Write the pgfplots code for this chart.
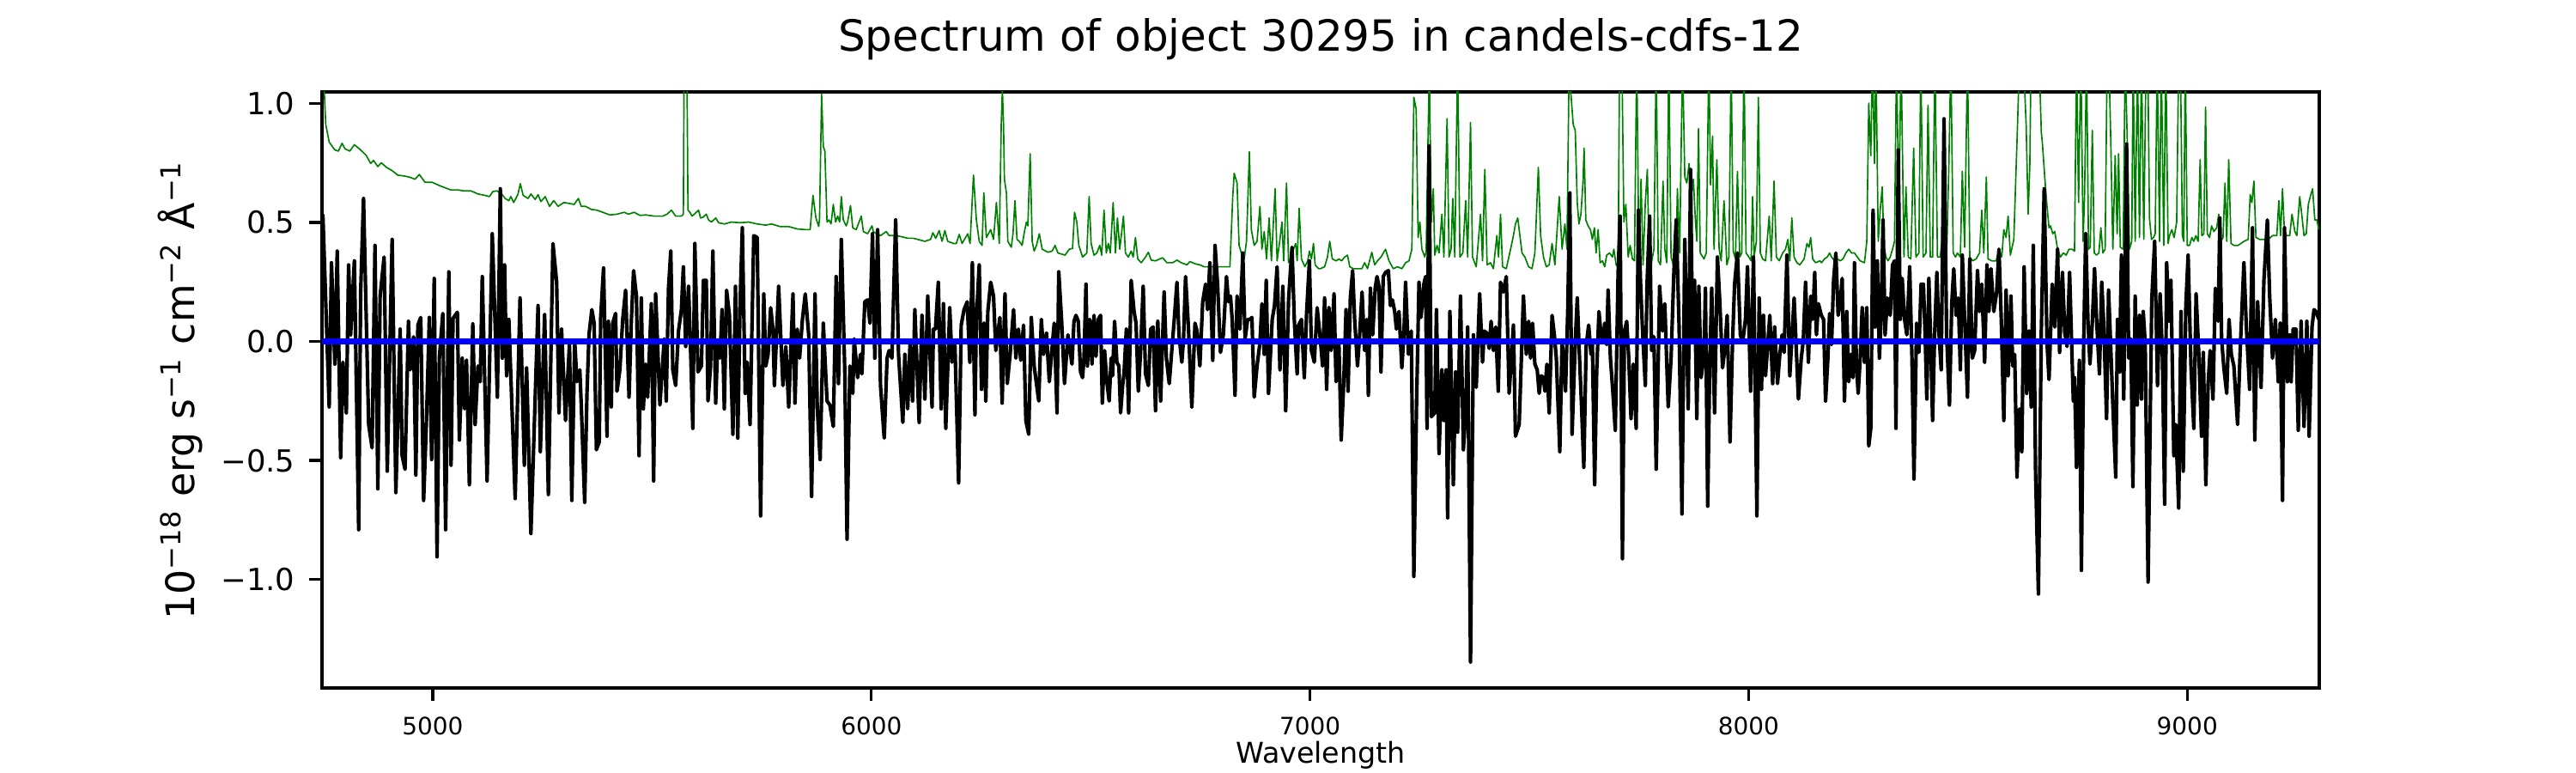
\documentclass[border=0pt]{standalone}
\usepackage{fontspec}
\setmainfont{DejaVu Sans}
\usepackage{pgfplots}
\usepackage{pgfplotstable}
\pgfplotsset{compat=1.18}
\definecolor{mplgreen}{rgb}{0,0.5,0}
\definecolor{mplblue}{rgb}{0,0,1}

\pgfplotstableread{
x y
4749.5 0.535
4763.9 -0.275
4769.1 0.331
4776.9 -0.095
4782.2 0.380
4790.0 -0.488
4795.2 -0.087
4803.0 -0.300
4808.2 0.322
4812.8 0.028
4821.3 0.339
4831.1 -0.791
4835.6 0.208
4842.2 0.601
4853.9 -0.349
4861.7 -0.447
4868.3 0.404
4874.8 -0.619
4880.0 0.191
4889.1 0.355
4896.3 -0.545
4907.4 0.429
4915.9 -0.635
4925.7 0.052
4930.2 -0.480
4936.8 -0.537
4944.6 0.085
4948.5 -0.119
4956.3 0.020
4961.5 -0.561
4966.1 0.069
4972.6 0.101
4979.2 -0.668
4985.7 -0.332
4992.2 0.101
4997.4 -0.496
5003.3 0.265
5009.8 -0.905
5015.0 -0.070
5022.9 0.118
5029.4 -0.791
5036.6 0.293
5041.8 -0.520
5046.3 0.097
5056.1 0.123
5060.7 -0.414
5067.2 -0.070
5072.4 -0.283
5077.0 -0.079
5083.5 -0.602
5091.3 0.074
5096.6 -0.349
5103.1 -0.103
5108.3 -0.169
5112.9 0.273
5123.9 -0.586
5135.7 0.453
5147.4 -0.234
5154.0 0.642
5158.5 -0.070
5163.8 0.322
5168.3 -0.144
5173.5 0.093
5187.9 -0.660
5199.0 0.183
5208.8 -0.520
5214.0 -0.111
5223.8 -0.807
5240.1 0.151
5245.3 -0.463
5255.1 0.113
5263.6 -0.643
5274.0 0.412
5282.5 0.249
5287.7 -0.300
5293.6 0.052
5302.7 -0.332
5311.8 -0.005
5317.0 -0.668
5323.6 0.003
5328.8 -0.169
5335.3 -0.119
5338.6 -0.267
5346.4 -0.676
5351.6 -0.218
5356.2 0.028
5362.7 0.134
5367.9 0.077
5373.1 -0.455
5379.6 -0.422
5382.9 0.101
5389.4 0.309
5397.3 -0.398
5400.5 0.085
5407.0 -0.275
5410.3 0.077
5416.8 0.118
5420.1 -0.209
5426.6 -0.119
5433.1 0.093
5439.7 0.216
5447.5 -0.234
5452.7 0.085
5457.9 0.298
5464.4 0.191
5470.3 -0.480
5475.5 0.183
5480.1 -0.283
5485.3 -0.095
5489.9 -0.234
5498.4 0.159
5503.6 -0.586
5508.2 0.200
5517.9 -0.267
5527.7 0.011
5532.3 -0.250
5537.5 0.224
5542.7 0.380
5547.3 -0.119
5553.8 -0.185
5560.3 0.044
5566.9 0.134
5571.4 0.314
5576.7 -0.021
5583.2 0.232
5588.4 -0.070
5592.9 -0.365
5597.5 0.412
5604.7 -0.128
5612.5 -0.103
5617.1 0.257
5623.6 0.257
5627.5 -0.250
5633.4 -0.103
5638.6 0.380
5645.1 -0.259
5649.7 0.003
5654.9 -0.070
5659.5 0.134
5664.7 -0.283
5669.9 0.216
5676.4 0.110
5684.3 -0.390
5690.2 0.232
5695.4 -0.406
5700.6 0.151
5705.8 0.478
5712.3 -0.218
5716.9 -0.087
5723.4 -0.349
5731.9 0.445
5739.7 0.437
5747.5 -0.733
5754.7 0.200
5759.3 -0.103
5764.5 -0.054
5770.4 0.142
5775.6 0.052
5778.9 -0.185
5788.6 0.232
5793.2 0.028
5798.4 -0.185
5805.0 -0.021
5811.5 -0.275
5821.3 0.200
5825.8 -0.259
5831.0 0.052
5836.3 -0.070
5842.8 0.093
5849.3 0.200
5857.1 0.028
5863.7 -0.651
5871.5 0.200
5876.7 -0.283
5883.2 -0.496
5890.4 0.077
5898.9 -0.250
5905.4 -0.267
5913.2 -0.357
5919.7 0.273
5925.0 -0.177
5931.5 0.429
5939.3 -0.119
5944.5 -0.831
5951.0 -0.103
5957.6 -0.218
5960.8 0.011
5968.7 -0.152
5975.2 -0.054
5978.4 -0.136
5985.0 0.167
5991.5 0.175
5996.7 0.077
6002.6 0.453
6007.8 -0.070
6014.3 0.470
6020.8 -0.185
6029.3 -0.406
6035.8 -0.070
6040.4 -0.038
6046.9 -0.070
6055.4 0.511
6061.9 -0.054
6071.7 -0.340
6076.3 -0.054
6082.8 -0.283
6088.0 -0.013
6093.9 -0.250
6099.1 0.134
6108.9 -0.340
6115.4 0.110
6122.0 -0.242
6128.5 0.191
6138.3 -0.275
6141.5 0.052
6146.1 0.052
6152.6 0.249
6159.1 -0.283
6164.4 0.159
6169.6 -0.365
6178.7 0.142
6183.9 -0.087
6190.4 -0.005
6198.9 -0.594
6204.8 0.069
6211.3 0.134
6218.5 0.167
6224.4 -0.087
6230.2 0.331
6236.1 -0.308
6239.4 0.093
6245.9 0.322
6251.1 -0.201
6257.0 0.077
6260.9 -0.250
6265.5 0.126
6272.0 0.249
6278.5 0.191
6283.7 -0.038
6292.9 0.101
6298.1 -0.259
6304.6 0.200
6309.8 -0.177
6316.3 -0.054
6324.2 0.134
6329.4 -0.070
6335.3 0.052
6340.5 -0.079
6347.0 0.069
6352.2 -0.332
6358.7 -0.390
6364.6 0.101
6371.1 -0.103
6381.6 -0.250
6387.5 0.093
6392.7 -0.054
6399.2 0.036
6405.7 -0.169
6410.3 -0.062
6416.8 0.077
6423.3 -0.300
6427.2 0.293
6433.8 0.085
6440.3 -0.177
6448.1 0.028
6457.3 -0.095
6461.9 0.085
6466.5 0.110
6471.7 0.085
6476.9 -0.128
6481.5 -0.152
6484.7 -0.070
6489.3 0.241
6492.5 -0.103
6497.8 0.093
6503.0 -0.095
6507.5 0.110
6512.1 -0.062
6517.3 0.093
6522.5 0.110
6526.5 -0.259
6531.7 -0.038
6536.9 -0.169
6542.1 -0.250
6546.7 -0.070
6549.9 -0.144
6554.5 0.085
6559.7 -0.087
6564.3 -0.103
6568.2 -0.300
6572.8 -0.185
6576.0 -0.136
6581.3 0.052
6586.5 -0.300
6592.3 0.257
6598.9 0.126
6603.4 0.077
6608.6 -0.209
6613.9 -0.038
6619.7 0.232
6625.0 -0.136
6631.5 -0.185
6636.7 0.052
6642.6 0.061
6647.8 -0.291
6653.0 0.085
6659.5 -0.250
6667.4 0.208
6672.6 -0.070
6679.1 -0.177
6685.6 -0.021
6690.2 0.085
6696.7 0.249
6701.3 0.028
6707.8 -0.087
6711.7 0.011
6716.3 0.273
6722.8 0.061
6730.6 -0.275
6737.8 0.077
6742.4 0.044
6748.9 -0.103
6755.4 0.167
6761.9 0.241
6766.5 0.134
6771.7 0.331
6778.3 -0.079
6783.5 0.404
6789.3 0.241
6795.9 -0.046
6802.4 0.028
6809.6 0.273
6814.1 0.167
6818.7 0.191
6822.6 0.093
6829.1 -0.226
6833.7 0.191
6840.2 0.052
6846.8 0.372
6852.0 0.011
6857.8 0.093
6863.1 0.093
6867.6 0.101
6872.8 -0.234
6879.3 -0.103
6885.9 -0.005
6890.4 0.159
6895.7 -0.054
6900.2 0.257
6905.4 -0.218
6913.9 0.093
6919.1 0.151
6925.0 0.314
6931.5 -0.119
6938.1 0.232
6944.6 -0.291
6951.1 0.175
6959.0 0.396
6964.2 0.093
6970.7 -0.136
6974.0 0.069
6980.5 0.093
6987.0 -0.152
6992.2 0.118
6998.7 0.339
7003.3 -0.038
7009.8 -0.087
7016.3 0.142
7023.5 0.011
7028.7 -0.103
7033.3 0.183
7037.9 -0.201
7043.1 0.142
7048.3 -0.038
7054.8 0.200
7059.4 -0.169
7065.9 -0.005
7071.1 -0.414
7077.0 -0.169
7082.2 0.134
7086.8 -0.209
7092.0 0.183
7097.2 0.298
7101.8 0.093
7108.3 -0.103
7113.5 0.036
7118.7 0.208
7124.6 -0.038
7129.2 0.093
7133.1 -0.226
7137.7 0.224
7142.9 0.028
7148.7 0.224
7152.7 0.273
7157.2 0.232
7161.8 -0.128
7167.0 0.273
7172.2 0.290
7178.7 0.298
7183.3 0.151
7187.9 0.175
7193.1 0.126
7197.0 0.052
7202.9 0.126
7209.4 -0.111
7214.0 0.028
7217.9 0.249
7224.4 -0.054
7230.9 0.044
7236.8 -0.987
7242.7 -0.283
7248.5 0.249
7253.1 0.101
7259.6 0.241
7263.5 0.273
7266.8 -0.365
7271.4 0.822
7276.6 -0.316
7284.4 -0.300
7288.3 0.134
7294.2 -0.471
7300.7 -0.119
7305.3 -0.332
7310.5 -0.119
7313.8 -0.741
7319.0 0.126
7326.8 -0.602
7332.0 -0.128
7336.6 -0.381
7343.1 0.191
7349.7 -0.455
7354.9 -0.300
7359.4 0.061
7366.0 -1.347
7372.5 0.028
7379.0 -0.193
7386.8 0.200
7393.4 -0.087
7397.3 0.044
7403.1 0.036
7408.4 -0.029
7412.9 0.085
7418.1 -0.038
7423.4 0.061
7429.2 -0.209
7434.4 0.249
7441.0 0.208
7447.5 0.273
7454.0 -0.218
7463.8 0.069
7468.4 -0.398
7476.9 -0.349
7486.6 0.191
7493.2 -0.054
7498.4 0.085
7502.9 -0.070
7507.5 0.077
7512.7 -0.095
7518.0 -0.119
7522.5 -0.218
7527.1 -0.144
7532.3 -0.152
7535.6 -0.209
7540.1 -0.095
7545.3 -0.300
7551.9 0.110
7557.1 0.028
7561.6 -0.070
7569.5 -0.463
7574.7 0.003
7582.5 -0.209
7587.7 0.134
7592.3 0.625
7597.5 -0.390
7604.7 -0.005
7609.3 0.183
7614.5 -0.070
7619.0 -0.267
7624.3 -0.529
7629.5 -0.021
7635.3 0.069
7640.6 -0.054
7643.8 -0.005
7649.0 -0.602
7653.6 -0.128
7658.8 0.126
7663.4 0.028
7668.0 0.003
7671.9 0.077
7676.4 -0.013
7679.7 0.216
7684.9 -0.070
7690.1 -0.201
7696.0 -0.373
7702.5 0.290
7707.1 0.527
7712.3 -0.913
7716.9 0.044
7722.1 0.085
7726.7 -0.070
7731.9 -0.324
7737.1 -0.095
7743.6 -0.365
7748.8 0.552
7753.4 0.257
7758.0 0.052
7764.5 -0.185
7768.4 0.241
7774.3 0.527
7778.8 -0.038
7784.1 0.020
7789.3 -0.537
7797.1 0.232
7803.6 0.044
7808.9 0.159
7816.7 -0.275
7823.2 -0.070
7829.7 0.298
7834.9 0.511
7841.5 0.061
7848.0 -0.725
7854.5 0.429
7862.3 -0.283
7867.6 0.723
7872.1 -0.005
7876.7 0.257
7881.9 -0.324
7886.5 0.232
7891.7 -0.152
7898.2 -0.062
7901.5 0.224
7906.7 -0.692
7911.3 -0.103
7915.8 0.224
7922.4 -0.300
7928.9 0.355
7934.1 0.175
7940.6 -0.111
7945.8 -0.029
7951.1 0.110
7957.6 -0.422
7963.4 0.003
7968.0 0.241
7974.5 0.372
7981.1 0.028
7986.3 -0.005
7992.8 0.093
7997.4 0.314
8004.5 -0.209
8011.1 0.355
8018.9 -0.733
8024.1 0.183
8029.3 -0.201
8033.9 0.110
8038.5 -0.144
8043.7 -0.013
8048.3 0.110
8054.8 -0.177
8059.3 0.061
8065.9 -0.177
8071.1 -0.054
8076.3 0.028
8080.9 -0.046
8087.4 0.363
8093.9 -0.144
8103.7 0.183
8113.5 -0.242
8120.0 -0.070
8124.6 0.003
8129.8 0.249
8136.3 -0.087
8141.5 0.191
8146.1 0.093
8150.7 0.290
8154.6 0.028
8159.1 0.159
8165.7 0.110
8170.9 0.093
8175.4 -0.250
8180.7 -0.070
8184.6 0.118
8189.1 -0.013
8193.7 0.257
8198.9 0.372
8204.1 0.110
8208.7 0.159
8213.3 0.265
8218.5 -0.250
8223.7 0.126
8228.3 -0.169
8232.8 -0.054
8238.1 -0.152
8241.3 0.331
8245.9 -0.103
8249.8 -0.218
8254.4 -0.070
8258.9 0.142
8264.1 -0.087
8269.4 0.142
8273.9 -0.439
8278.5 -0.365
8283.7 0.552
8288.3 0.061
8293.5 0.339
8298.1 -0.070
8302.0 0.093
8306.5 0.511
8311.1 0.028
8316.3 0.183
8322.8 0.110
8328.1 0.322
8332.6 0.339
8335.9 -0.365
8341.1 0.805
8345.7 0.093
8350.2 0.265
8355.5 0.093
8360.7 0.028
8367.2 0.314
8372.4 -0.070
8377.0 -0.578
8382.9 0.077
8388.1 -0.046
8393.3 0.241
8398.5 0.241
8402.4 0.028
8406.3 -0.242
8410.9 0.265
8416.1 -0.070
8419.4 -0.332
8424.0 0.028
8429.2 0.290
8433.7 0.044
8439.0 -0.119
8445.5 0.936
8451.4 0.028
8457.9 -0.267
8463.1 0.159
8467.7 0.306
8472.9 0.110
8478.1 0.183
8482.7 -0.119
8487.2 0.363
8492.5 0.093
8499.0 -0.234
8504.2 0.347
8510.1 -0.070
8515.3 -0.038
8521.8 0.298
8526.4 0.126
8531.6 0.241
8538.1 -0.087
8543.3 0.322
8547.9 0.126
8552.5 0.306
8559.0 0.126
8565.5 0.208
8570.7 0.388
8576.0 0.093
8581.8 -0.332
8587.0 0.216
8591.6 -0.144
8598.1 0.191
8602.0 -0.103
8606.6 -0.054
8611.8 -0.570
8617.7 -0.283
8622.9 -0.463
8628.1 0.314
8634.0 -0.218
8639.2 0.044
8644.4 -0.275
8649.0 0.404
8654.2 -0.553
8660.7 -1.061
8667.3 0.044
8673.8 0.642
8680.3 -0.005
8684.9 -0.160
8692.1 0.241
8697.9 0.061
8704.4 0.388
8709.0 -0.046
8715.5 0.290
8720.8 0.036
8726.0 -0.021
8731.8 0.290
8735.1 0.077
8740.3 -0.250
8743.0 -0.152
8747.6 -0.529
8754.1 -0.079
8758.7 -0.962
8763.9 -0.005
8768.5 0.453
8773.7 0.085
8778.2 -0.095
8783.5 0.077
8788.7 0.306
8793.3 0.093
8799.8 -0.136
8805.0 0.249
8809.6 0.077
8816.1 -0.324
8820.6 0.216
8825.9 -0.038
8830.4 -0.267
8837.0 -0.570
8840.9 0.093
8845.4 -0.128
8850.0 0.363
8855.2 -0.242
8861.7 0.830
8866.3 -0.070
8871.5 0.011
8876.1 -0.610
8881.3 0.191
8885.9 -0.267
8891.1 0.110
8895.7 -0.242
8899.6 0.126
8904.1 -0.005
8910.7 -1.011
8919.1 0.175
8925.7 0.421
8932.2 -0.185
8938.1 0.200
8943.3 -0.054
8948.5 -0.684
8953.1 0.331
8958.3 0.085
8962.8 0.257
8969.4 -0.480
8973.9 -0.349
8980.5 -0.700
8985.7 0.126
8990.9 -0.545
8996.8 0.151
9002.0 0.363
9008.5 -0.103
9015.0 -0.365
9020.2 0.200
9026.8 -0.070
9032.6 -0.398
9036.6 -0.046
9042.4 -0.602
9047.6 -0.177
9052.2 -0.038
9058.7 -0.242
9064.0 0.224
9070.5 0.085
9074.4 0.519
9078.3 0.011
9083.5 -0.111
9090.0 -0.218
9095.3 0.093
9100.5 -0.054
9106.3 -0.103
9114.8 -0.349
9120.7 -0.038
9129.2 0.331
9134.4 0.077
9142.2 -0.201
9148.8 0.478
9154.0 -0.414
9160.5 0.167
9168.3 -0.193
9174.8 0.257
9182.7 0.511
9187.9 0.191
9194.4 -0.070
9200.9 0.093
9207.5 -0.169
9212.0 0.077
9217.2 -0.668
9221.8 0.478
9228.3 -0.169
9233.6 0.028
9236.8 -0.169
9241.4 0.052
9247.9 0.052
9253.1 -0.373
9259.6 0.085
9266.2 -0.357
9272.7 0.085
9277.9 -0.398
9284.4 0.061
9289.0 0.134
9293.5 0.126
9300.0 0.093
}\fluxtable

\pgfplotstableread{
x y
4748.0 1.3
4751.5 1.1
4756.1 0.912
4763.9 0.838
4776.9 0.805
4784.8 0.800
4793.2 0.833
4799.8 0.810
4810.9 0.800
4821.3 0.827
4835.6 0.805
4848.7 0.781
4858.5 0.748
4865.0 0.761
4874.8 0.735
4882.6 0.751
4894.4 0.732
4907.4 0.718
4920.4 0.699
4933.5 0.696
4946.5 0.691
4959.6 0.682
4969.4 0.702
4982.4 0.669
4998.7 0.669
5011.8 0.658
5028.1 0.646
5041.1 0.637
5057.4 0.637
5070.5 0.633
5086.8 0.633
5103.1 0.620
5119.4 0.614
5129.2 0.609
5137.0 0.630
5145.5 0.633
5155.3 0.625
5165.1 0.601
5173.5 0.592
5178.1 0.609
5184.6 0.584
5194.4 0.620
5199.6 0.663
5206.2 0.614
5217.2 0.601
5223.8 0.620
5233.6 0.597
5240.1 0.617
5246.6 0.588
5256.4 0.609
5266.2 0.568
5276.0 0.592
5285.7 0.568
5298.8 0.584
5309.2 0.581
5322.2 0.576
5332.0 0.601
5338.6 0.568
5348.3 0.568
5361.4 0.555
5374.4 0.552
5387.5 0.543
5403.8 0.532
5420.1 0.535
5436.4 0.543
5446.2 0.535
5459.2 0.543
5472.3 0.530
5485.3 0.532
5504.9 0.527
5524.5 0.527
5534.2 0.535
5544.0 0.552
5553.8 0.527
5566.9 0.527
5571.4 0.535
5574.0 1.5
5578.0 1.5
5581.9 0.552
5586.4 0.543
5591.0 0.527
5596.2 0.535
5606.0 0.552
5610.6 0.519
5615.8 0.522
5623.6 0.535
5628.8 0.511
5635.4 0.502
5645.1 0.519
5651.7 0.499
5664.7 0.494
5681.0 0.502
5700.6 0.499
5720.1 0.502
5739.7 0.494
5759.3 0.489
5772.3 0.494
5791.9 0.483
5811.5 0.483
5831.0 0.473
5850.6 0.470
5860.4 0.470
5866.9 0.614
5873.5 0.519
5880.0 0.483
5881.9 0.519
5886.5 1.04
5890.4 0.82
5894.0 0.80
5898.9 0.502
5903.4 0.511
5908.0 0.494
5913.2 0.576
5918.4 0.502
5923.0 0.527
5927.6 0.502
5931.5 0.609
5936.0 0.511
5942.6 0.486
5945.8 0.502
5952.4 0.571
5957.6 0.478
5965.4 0.470
5971.9 0.502
5977.1 0.527
5981.7 0.462
5991.5 0.453
6001.3 0.486
6004.5 0.462
6011.1 0.453
6020.8 0.445
6033.9 0.462
6040.4 0.445
6056.7 0.445
6069.8 0.440
6082.8 0.434
6095.9 0.434
6105.6 0.429
6122.0 0.421
6135.0 0.429
6140.2 0.457
6146.7 0.434
6154.6 0.466
6161.1 0.421
6167.6 0.466
6174.1 0.421
6187.2 0.412
6193.7 0.412
6200.2 0.450
6206.8 0.412
6219.8 0.453
6225.0 0.412
6232.8 0.699
6239.4 0.511
6245.9 0.421
6252.4 0.404
6256.3 0.625
6262.2 0.437
6272.0 0.470
6278.5 0.429
6285.0 0.584
6291.6 0.412
6296.1 0.912
6298.7 1.06
6301.3 0.912
6303.3 0.682
6307.9 0.625
6311.1 0.421
6319.0 0.396
6322.9 0.453
6327.4 0.592
6332.0 0.429
6337.2 0.421
6343.7 0.404
6349.0 0.462
6353.5 0.502
6356.8 0.486
6362.0 0.789
6366.6 0.421
6371.1 0.380
6376.4 0.404
6382.9 0.453
6389.4 0.388
6402.4 0.375
6412.2 0.380
6418.8 0.404
6425.3 0.372
6441.6 0.363
6451.4 0.388
6458.6 0.391
6463.2 0.543
6468.4 0.502
6473.0 0.404
6481.5 0.355
6491.2 0.372
6496.5 0.609
6501.0 0.412
6507.5 0.363
6514.1 0.372
6520.6 0.404
6525.2 0.363
6530.4 0.552
6535.6 0.372
6540.2 0.412
6544.7 0.372
6551.2 0.584
6556.5 0.372
6561.0 0.519
6566.3 0.388
6574.7 0.527
6579.3 0.372
6585.8 0.355
6592.3 0.380
6596.9 0.355
6602.1 0.437
6607.3 0.347
6615.2 0.331
6625.0 0.355
6631.5 0.375
6638.0 0.342
6647.8 0.339
6664.1 0.352
6673.9 0.331
6686.9 0.331
6696.7 0.342
6706.5 0.331
6719.5 0.322
6726.1 0.336
6739.1 0.326
6748.9 0.322
6758.7 0.314
6778.3 0.314
6797.8 0.314
6817.4 0.314
6823.9 0.609
6827.2 0.707
6833.7 0.666
6838.3 0.404
6843.5 0.372
6850.0 0.347
6855.2 0.421
6861.8 0.797
6866.3 0.470
6872.8 0.404
6879.3 0.421
6885.9 0.568
6890.4 0.388
6895.7 0.462
6900.9 0.347
6906.8 0.519
6912.0 0.339
6920.5 0.642
6925.0 0.339
6931.5 0.429
6936.1 0.502
6940.0 0.339
6946.5 0.666
6951.1 0.331
6957.6 0.355
6962.2 0.388
6967.4 0.412
6970.7 0.339
6975.3 0.560
6980.5 0.347
6988.3 0.314
6994.8 0.339
6998.7 0.380
7003.3 0.347
7007.9 0.412
7011.8 0.322
7019.6 0.306
7023.5 0.306
7033.3 0.314
7039.8 0.355
7045.0 0.421
7050.9 0.347
7059.4 0.339
7065.9 0.347
7072.4 0.339
7079.0 0.355
7085.5 0.363
7090.7 0.314
7098.5 0.306
7108.3 0.306
7118.1 0.306
7124.6 0.331
7131.1 0.306
7140.9 0.375
7147.4 0.322
7154.0 0.339
7161.8 0.355
7172.2 0.388
7180.1 0.339
7189.8 0.306
7199.6 0.314
7209.4 0.306
7217.9 0.331
7225.7 0.339
7232.2 0.388
7236.8 1.026
7242.0 0.977
7246.6 0.437
7250.5 0.502
7255.1 0.388
7261.6 0.355
7264.9 0.380
7268.1 0.748
7272.0 1.15
7276.6 0.502
7281.2 0.642
7284.4 0.363
7289.6 0.404
7294.2 0.372
7300.7 0.535
7305.3 0.355
7312.5 0.936
7317.0 0.355
7321.6 0.388
7325.5 0.601
7330.1 0.355
7336.6 1.2
7341.8 0.355
7348.4 0.372
7354.9 0.592
7359.4 0.355
7366.0 0.920
7370.5 0.355
7379.0 0.314
7388.8 0.535
7393.4 0.339
7398.6 0.723
7403.8 0.322
7411.6 0.331
7418.1 0.306
7426.0 0.445
7429.9 0.355
7434.4 0.535
7439.0 0.314
7447.5 0.306
7457.3 0.388
7463.8 0.445
7468.4 0.494
7473.6 0.519
7476.9 0.470
7483.4 0.372
7489.9 0.355
7498.4 0.314
7506.2 0.306
7512.7 0.372
7520.6 0.732
7525.8 0.445
7532.3 0.355
7538.8 0.314
7545.3 0.322
7551.9 0.412
7558.4 0.322
7568.2 0.609
7574.7 0.388
7581.2 0.494
7585.8 0.388
7591.0 1.2
7594.9 1.04
7600.1 0.912
7604.7 0.887
7609.3 0.584
7613.2 0.494
7617.7 0.535
7622.3 0.666
7624.9 0.813
7628.8 0.511
7634.0 0.486
7639.3 0.470
7643.8 0.429
7648.4 0.478
7652.3 0.372
7656.9 0.470
7661.4 0.331
7666.7 0.339
7671.9 0.314
7676.4 0.363
7683.0 0.372
7689.5 0.355
7692.7 0.388
7698.0 0.322
7702.5 0.314
7705.8 1.2
7711.0 1.2
7715.6 0.502
7720.1 0.576
7725.4 0.355
7729.9 0.404
7735.1 0.347
7739.7 0.339
7744.9 1.2
7750.1 0.322
7754.7 0.682
7759.3 0.322
7764.5 0.584
7769.1 0.723
7773.0 0.372
7777.5 0.322
7784.1 0.388
7789.3 1.2
7793.9 0.339
7799.1 0.322
7804.9 0.674
7808.9 0.388
7813.4 0.331
7818.0 1.2
7823.2 0.355
7828.4 0.322
7834.3 0.339
7837.6 0.642
7842.8 0.372
7849.3 1.2
7854.5 0.691
7859.1 0.666
7864.3 0.748
7868.9 0.601
7874.1 0.682
7878.6 0.511
7881.9 0.421
7885.8 0.895
7889.7 0.372
7898.2 0.347
7903.4 0.372
7909.3 1.2
7913.2 0.658
7917.8 0.863
7921.1 0.388
7927.6 0.764
7932.8 0.388
7937.4 0.339
7943.9 0.592
7950.4 0.322
7955.0 0.355
7960.2 1.2
7964.8 0.380
7970.0 0.347
7974.5 0.715
7979.8 0.355
7984.3 0.372
7989.5 1.2
7994.1 0.372
8000.6 0.355
8005.8 0.339
8009.1 0.609
8012.4 0.355
8017.6 0.421
8022.2 1.026
8026.7 0.372
8031.9 0.347
8038.5 0.339
8046.9 0.527
8051.5 0.339
8058.0 0.674
8063.3 0.355
8069.8 0.339
8077.6 0.372
8084.1 0.388
8089.4 0.429
8093.9 0.339
8098.5 0.519
8103.7 0.355
8110.2 0.331
8116.7 0.322
8126.5 0.347
8133.0 0.412
8137.6 0.396
8141.5 0.437
8146.1 0.347
8152.6 0.331
8162.4 0.339
8166.3 0.331
8172.8 0.347
8179.3 0.355
8184.6 0.372
8189.1 0.355
8195.7 0.339
8202.2 0.347
8208.7 0.339
8215.2 0.347
8221.7 0.372
8228.3 0.388
8234.8 0.372
8241.3 0.372
8247.8 0.355
8254.4 0.339
8264.1 0.331
8269.4 0.421
8273.9 1.002
8278.5 0.781
8282.4 1.2
8287.0 0.748
8290.2 1.2
8295.5 0.421
8300.0 0.552
8304.6 0.650
8308.5 0.404
8313.1 0.355
8317.6 0.339
8322.8 0.355
8328.1 0.388
8332.6 0.421
8337.2 1.2
8342.4 0.535
8347.6 1.2
8354.2 0.355
8358.7 0.650
8364.0 0.355
8369.8 0.347
8376.3 0.813
8381.6 0.355
8388.1 0.372
8392.6 1.2
8397.9 0.355
8404.4 0.372
8409.0 0.993
8414.2 0.355
8419.4 0.355
8424.6 1.2
8430.5 0.355
8437.0 0.355
8442.2 0.453
8445.5 0.486
8451.4 0.355
8456.6 0.748
8461.1 1.2
8466.4 0.372
8471.6 0.355
8476.1 0.372
8482.7 0.355
8487.2 0.715
8492.5 0.396
8499.0 1.2
8504.2 0.355
8510.7 0.339
8518.5 0.347
8526.4 0.372
8531.6 0.552
8536.2 0.372
8542.0 0.691
8545.9 0.347
8554.4 0.339
8564.2 0.339
8570.7 0.388
8577.2 0.355
8581.8 0.470
8587.0 0.437
8591.6 0.527
8596.8 0.363
8604.6 0.429
8613.1 0.912
8617.7 1.2
8626.2 1.2
8632.7 0.912
8637.3 0.535
8641.2 0.748
8643.8 1.2
8662.1 1.2
8667.3 0.879
8669.9 0.830
8675.1 0.691
8680.3 0.568
8684.9 0.478
8688.2 0.486
8693.4 0.453
8697.9 0.462
8704.4 0.388
8711.0 0.355
8717.5 0.372
8724.0 0.363
8730.5 0.388
8737.1 0.388
8743.0 0.380
8747.6 1.2
8752.2 0.584
8757.4 1.2
8762.6 0.421
8765.9 0.617
8770.4 1.2
8775.0 0.388
8778.9 0.396
8783.5 0.887
8788.0 0.372
8793.2 0.363
8798.5 0.372
8803.1 0.478
8807.6 0.372
8812.8 0.388
8817.4 1.2
8821.3 1.2
8825.9 0.822
8830.4 0.388
8835.7 0.781
8840.2 0.453
8843.5 0.789
8847.4 0.396
8853.9 0.388
8858.5 1.2
8863.0 0.863
8868.3 0.388
8873.5 0.421
8876.7 1.2
8881.3 0.421
8886.5 1.2
8891.1 0.437
8895.7 1.2
8900.9 0.429
8906.1 1.2
8910.0 1.2
8913.9 0.519
8918.5 0.429
8923.1 0.437
8927.0 0.453
8931.5 1.2
8936.8 0.421
8940.7 1.2
8946.5 0.404
8951.1 1.2
8956.3 0.412
8959.6 0.445
8964.8 0.470
8970.0 0.437
8975.9 0.502
8980.5 1.2
8984.4 1.2
8988.9 0.445
8992.2 0.421
8995.5 1.2
9000.0 0.404
9005.2 0.404
9010.5 0.437
9015.0 0.421
9019.6 0.445
9024.8 0.421
9029.4 0.764
9033.3 0.445
9037.9 0.453
9041.8 0.985
9045.7 0.453
9050.9 0.437
9055.5 0.486
9060.7 0.462
9067.2 0.478
9071.8 0.535
9077.0 0.421
9081.6 0.437
9086.1 0.666
9090.0 0.421
9094.6 0.764
9099.8 0.412
9106.3 0.404
9116.2 0.404
9129.2 0.421
9139.0 0.429
9143.5 0.617
9147.4 0.584
9152.0 0.674
9156.6 0.437
9165.1 0.429
9174.8 0.429
9184.6 0.429
9194.4 0.445
9204.2 0.445
9208.8 0.592
9212.7 0.445
9217.2 0.642
9221.8 0.453
9227.0 0.445
9233.6 0.445
9238.8 0.535
9245.3 0.462
9249.9 0.445
9256.4 0.609
9261.0 0.535
9266.2 0.445
9271.4 0.453
9276.0 0.576
9280.5 0.609
9285.7 0.642
9290.9 0.511
9295.5 0.511
9300.0 0.470
}\errtable

\begin{document}
\begin{tikzpicture}
\useasboundingbox (0,0) rectangle (720pt,216pt);
\begin{axis}[
  at={(90pt,23.76pt)}, anchor=south west,
  scale only axis, width=558.24pt, height=166.56pt,
  xmin=4747.5, xmax=9301, ymin=-1.456, ymax=1.049,
  axis line style={line width=0.8pt},
  every tick/.style={black, line width=0.8pt},
  tick align=outside, major tick length=3.5pt,
  xtick pos=bottom, ytick pos=left,
  xtick={5000,6000,7000,8000,9000},
  xticklabels={5000,6000,7000,8000,9000},
  ytick={-1,-0.5,0,0.5,1},
  yticklabels={−1.0,−0.5,0.0,0.5,1.0},
  /pgf/number format/assume math mode=true,
  xticklabel style={font=\fontsize{6.7}{8}\selectfont, anchor=base, inner sep=0pt, yshift=-9.5pt},
  yticklabel style={font=\fontsize{8.5}{10}\selectfont, anchor=east, inner sep=0pt, xshift=-3.9pt},
  title={Spectrum of object 30295 in candels-cdfs-12},
  title style={at={(axis description cs:0.5,1)}, anchor=base, inner sep=0pt, yshift=5.3pt, font=\fontsize{12}{14}\selectfont},
  xlabel={Wavelength},
  xlabel style={at={(axis description cs:0.5,0)}, anchor=base, inner sep=0pt, yshift=-21.1pt, font=\fontsize{8}{10}\selectfont},
  ylabel={10\textsuperscript{−18} erg s\textsuperscript{−1} cm\textsuperscript{−2} Å\textsuperscript{−1}},
  ylabel style={at={(axis description cs:-0.0709,0.5)}, anchor=center, inner sep=0pt, font=\fontsize{11}{13}\selectfont},
  clip=true,
]
\addplot[mplgreen, line width=0.4pt, line join=round] table[x=x,y=y] {\errtable};
\addplot[black, line width=1pt, line join=round] table[x=x,y=y] {\fluxtable};
\addplot[mplblue, line width=1.6pt] coordinates {(4747.5,0) (9301,0)};
\end{axis}
\end{tikzpicture}
\end{document}
